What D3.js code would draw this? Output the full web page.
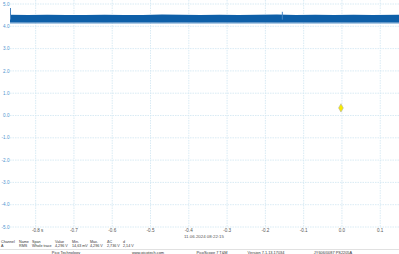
<!DOCTYPE html>
<html>
<head>
<meta charset="utf-8">
<script src="https://cdn.jsdelivr.net/npm/d3@7"></script>
<style>
  body { margin: 0; background: #fff; }
  svg { display: block; font-family: "Liberation Sans", "DejaVu Sans", sans-serif; }
</style>
</head>
<body>
<div id="chart"></div>
<script>
// time ticks (s) and voltage ticks (V)
const xTicks = [-0.8, -0.7, -0.6, -0.5, -0.4, -0.3, -0.2, -0.1, 0.0, 0.1];
const yTicks = [5, 4, 3, 2, 1, 0, -1, -2, -3, -4, -5];

// envelope of channel A trace
const envTime = [-0.867, -0.82, -0.77, -0.72, -0.67, -0.62, -0.57, -0.52, -0.47, -0.42, -0.37, -0.32, -0.27, -0.22, -0.17, -0.12, -0.07, -0.02, 0.03, 0.08, 0.149];
const envHi   = [4.52, 4.51, 4.52, 4.51, 4.51, 4.52, 4.51, 4.51, 4.53, 4.52, 4.51, 4.52, 4.51, 4.52, 4.53, 4.51, 4.52, 4.51, 4.52, 4.51, 4.52];
const envLo   = [4.18, 4.17, 4.18, 4.17, 4.18, 4.17, 4.18, 4.18, 4.17, 4.18, 4.17, 4.18, 4.17, 4.18, 4.17, 4.18, 4.17, 4.18, 4.17, 4.18, 4.17];
const envLow2 = [4.12, 4.13, 4.12, 4.13, 4.13, 4.12, 4.13, 4.12, 4.13, 4.13, 4.12, 4.13, 4.12, 4.13, 4.12, 4.13, 4.12, 4.13, 4.12, 4.13, 4.13];

// single spikes above the band
const spikeTime = [-0.867, -0.157];
const spikeVal  = [4.82, 4.65];

// trigger marker
const trigger = { t: 0.0, v: 0.34 };

const headers = ["Channel", "Name", "Span", "Value", "Min.", "Max.", "\u0394C", "d"];
const values  = ["A", "RMS", "Whole trace", "4,296 V", "14,63 mV", "4,296 V", "2,736 V", "2,14 V"];
const colX    = [1, 19, 32, 55, 72, 90, 107, 123];

const footer  = ["Pico Technology", "www.picotech.com", "PicoScope 7 T&M", "Version 7.1.13.17034", "JY606/0087 PS2205A"];
const footX   = [66, 148, 212, 266, 333];

const W = 399, H = 254;
const svg = d3.select("#chart").append("svg")
  .attr("width", W).attr("height", H);

const x = d3.scaleLinear().domain([-0.867, 0.149]).range([10, 399]);
const y = d3.scaleLinear().domain([-5, 5]).range([227, 4]);

const gridColor = "#cfe6f1";

// horizontal grid
svg.append("g").selectAll("line")
  .data(yTicks).enter().append("line")
  .attr("x1", 10).attr("x2", W)
  .attr("y1", d => y(d)).attr("y2", d => y(d))
  .attr("stroke", gridColor).attr("stroke-width", 0.8)
  .attr("stroke-dasharray", "1.5,1");

// vertical grid
svg.append("g").selectAll("line")
  .data(xTicks).enter().append("line")
  .attr("x1", d => x(d)).attr("x2", d => x(d))
  .attr("y1", 0).attr("y2", y(-5))
  .attr("stroke", gridColor).attr("stroke-width", 0.8)
  .attr("stroke-dasharray", "1.5,1");

// y labels
svg.append("g").selectAll("text")
  .data(yTicks).enter().append("text")
  .attr("x", 9.5).attr("y", d => y(d) + 1.6)
  .attr("text-anchor", "end")
  .attr("font-size", 4.6)
  .attr("fill", "#4d93cf")
  .text(d => d.toFixed(1));

// x labels
svg.append("g").selectAll("text")
  .data(xTicks).enter().append("text")
  .attr("x", d => x(d) + (d === -0.8 ? 2 : 0)).attr("y", 231.5)
  .attr("text-anchor", "middle")
  .attr("font-size", 4.6)
  .attr("fill", "#555")
  .text(d => d === -0.8 ? "-0.8 s" : d.toFixed(1));

svg.append("text")
  .attr("x", 184).attr("y", 238)
  .attr("font-size", 4.4).attr("fill", "#555")
  .text("11.06.2024 08:22:15");

// trace band
const rows = envTime.map((t, i) => ({ t, hi: envHi[i], lo: envLo[i], lo2: envLow2[i] }));

svg.append("path")
  .datum(rows)
  .attr("fill", "#5b93c9")
  .attr("d", d3.area().x(d => x(d.t)).y0(d => y(d.lo2)).y1(d => y(d.lo)));

svg.append("path")
  .datum(rows)
  .attr("fill", "#0e5fa8")
  .attr("d", d3.area().x(d => x(d.t)).y0(d => y(d.lo)).y1(d => y(d.hi)));

svg.append("g").selectAll("line")
  .data(spikeTime).enter().append("line")
  .attr("x1", d => x(d) + 0.5).attr("x2", d => x(d) + 0.5)
  .attr("y1", (d, i) => y(spikeVal[i])).attr("y2", y(4.3))
  .attr("stroke", "#4a86c2").attr("stroke-width", 1);

// trigger diamond
svg.append("path")
  .attr("transform", `translate(${x(trigger.t) - 1},${y(trigger.v)})`)
  .attr("d", d3.symbol().type(d3.symbolDiamond).size(20)())
  .attr("fill", "#f7ea00").attr("stroke", "#b4b4a4").attr("stroke-width", 0.6);

// measurement table
svg.append("g").selectAll("text")
  .data(headers).enter().append("text")
  .attr("x", (d, i) => colX[i]).attr("y", 242.5)
  .attr("font-size", 3.7).attr("fill", "#333")
  .text(d => d);

svg.append("g").selectAll("text")
  .data(values).enter().append("text")
  .attr("x", (d, i) => colX[i]).attr("y", 247.3)
  .attr("font-size", 3.7).attr("fill", "#333")
  .text(d => d);

svg.append("line")
  .attr("x1", 0).attr("x2", W).attr("y1", 249.5).attr("y2", 249.5)
  .attr("stroke", "#ccc").attr("stroke-width", 0.6);

svg.append("g").selectAll("text")
  .data(footer).enter().append("text")
  .attr("x", (d, i) => footX[i]).attr("y", 253.5)
  .attr("text-anchor", "middle")
  .attr("font-size", 3.9).attr("fill", "#333")
  .text(d => d);
</script>
</body>
</html>
